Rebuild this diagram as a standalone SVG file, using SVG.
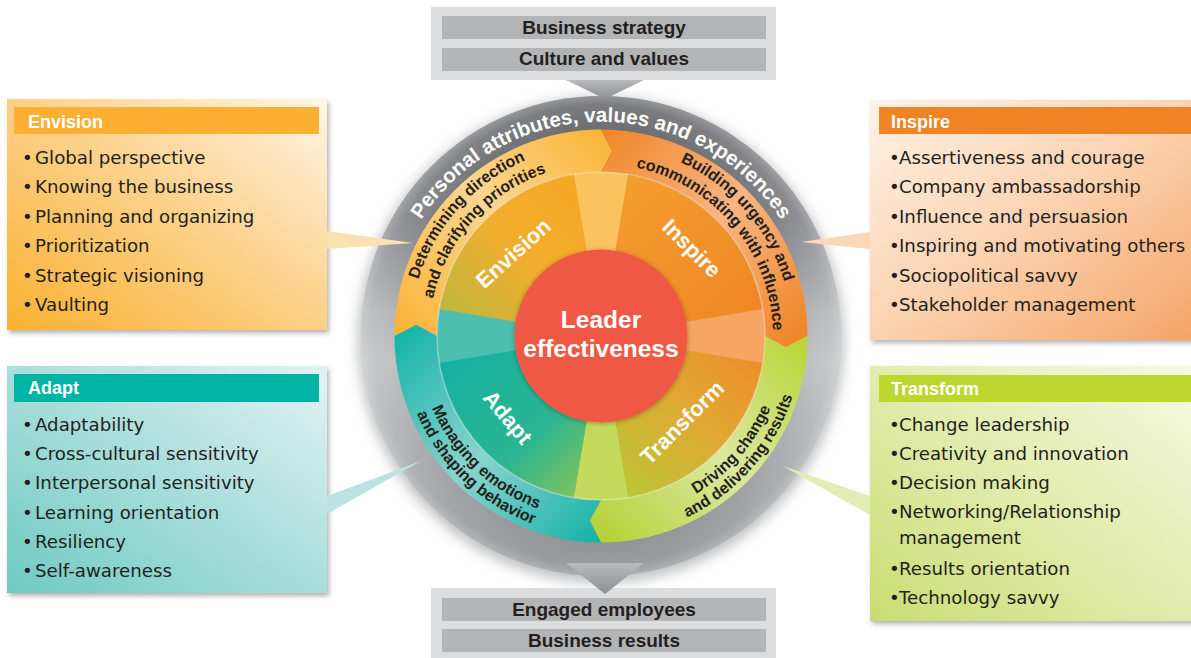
<svg xmlns="http://www.w3.org/2000/svg" width="1191" height="658" viewBox="0 0 1191 658">
<defs>
<style>
.hdr{font-family:"Liberation Sans",Arial,sans-serif;font-weight:700;font-size:18px;fill:#fff}
.li{font-family:"DejaVu Sans",sans-serif;font-size:18.2px;fill:#231F20}
.bar{font-family:"Liberation Sans",Arial,sans-serif;font-weight:700;font-size:19px;fill:#231F20;text-anchor:middle}
.rt{font-family:"Liberation Sans",Arial,sans-serif;font-weight:700;font-size:16px;fill:#231F20}
.gt{font-family:"Liberation Sans",Arial,sans-serif;font-weight:700;font-size:20.5px;fill:#fff}
.il{font-family:"Liberation Sans",Arial,sans-serif;font-weight:700;font-size:22px;fill:#fff;text-anchor:middle}
.ct{font-family:"Liberation Sans",Arial,sans-serif;font-weight:700;font-size:24.5px;fill:#fff;text-anchor:middle}
.outer{fill:#DCDDDE}
.bbar{fill:#B2B4B6}
</style>
<filter id="sh" x="-10%" y="-10%" width="130%" height="130%"><feDropShadow dx="2" dy="3" stdDeviation="2.5" flood-color="#000" flood-opacity="0.3"/></filter>
<filter id="blur" x="-20%" y="-20%" width="140%" height="140%"><feGaussianBlur stdDeviation="7"/></filter>
<filter id="csh" x="-20%" y="-20%" width="140%" height="140%"><feDropShadow dx="0" dy="1" stdDeviation="2.5" flood-color="#000" flood-opacity="0.3"/></filter>
<linearGradient id="gEnvBox" x1="0" y1="1" x2="1" y2="0"><stop offset="0" stop-color="#F9B131"/><stop offset="0.55" stop-color="#FCD38F"/><stop offset="1" stop-color="#FEF6E6"/></linearGradient>
<linearGradient id="gAdaBox" x1="0" y1="1" x2="1" y2="0"><stop offset="0" stop-color="#6FCAC4"/><stop offset="0.55" stop-color="#AEE0DD"/><stop offset="1" stop-color="#E3F3F3"/></linearGradient>
<linearGradient id="gInsBox" x1="0" y1="0" x2="1" y2="1"><stop offset="0" stop-color="#FEF3E6"/><stop offset="0.5" stop-color="#FBD2B0"/><stop offset="1" stop-color="#F5A363"/></linearGradient>
<linearGradient id="gTraBox" x1="0" y1="1" x2="1" y2="0"><stop offset="0" stop-color="#CADD72"/><stop offset="0.5" stop-color="#E2ECAE"/><stop offset="1" stop-color="#F6F9E4"/></linearGradient>
<linearGradient id="gRing" gradientUnits="userSpaceOnUse" x1="0" y1="96" x2="0" y2="576"><stop offset="0" stop-color="#66676A"/><stop offset="0.25" stop-color="#808184"/><stop offset="0.45" stop-color="#B4B5B7"/><stop offset="0.55" stop-color="#C0C1C3"/><stop offset="0.78" stop-color="#A5A6A9"/><stop offset="1" stop-color="#8A8B8E"/></linearGradient>
<radialGradient id="gRingEdge" gradientUnits="userSpaceOnUse" cx="601" cy="336" r="240"><stop offset="0.86" stop-color="#fff" stop-opacity="0"/><stop offset="0.96" stop-color="#fff" stop-opacity="0.12"/><stop offset="1" stop-color="#fff" stop-opacity="0.3"/></radialGradient>
<linearGradient id="gEnvRing" gradientUnits="userSpaceOnUse" x1="395" y1="336" x2="601" y2="130"><stop offset="0" stop-color="#F9B233"/><stop offset="0.55" stop-color="#FDD690"/><stop offset="1" stop-color="#F9B437"/></linearGradient>
<linearGradient id="gInsRing" gradientUnits="userSpaceOnUse" x1="601" y1="130" x2="807" y2="336"><stop offset="0" stop-color="#F08626"/><stop offset="0.5" stop-color="#F7B583"/><stop offset="1" stop-color="#F08424"/></linearGradient>
<linearGradient id="gTraRing" gradientUnits="userSpaceOnUse" x1="807" y1="336" x2="601" y2="542"><stop offset="0" stop-color="#B8D432"/><stop offset="0.5" stop-color="#DCE8A0"/><stop offset="1" stop-color="#B3D135"/></linearGradient>
<linearGradient id="gAdaRing" gradientUnits="userSpaceOnUse" x1="601" y1="542" x2="395" y2="336"><stop offset="0" stop-color="#12B2A6"/><stop offset="0.5" stop-color="#8AD3CE"/><stop offset="1" stop-color="#14B4A8"/></linearGradient>
<linearGradient id="gEnvIn" gradientUnits="userSpaceOnUse" x1="601" y1="172" x2="437" y2="336"><stop offset="0" stop-color="#F6A623"/><stop offset="0.5" stop-color="#F1AE2C"/><stop offset="1" stop-color="#B3B841"/></linearGradient>
<linearGradient id="gInsIn" gradientUnits="userSpaceOnUse" x1="601" y1="172" x2="765" y2="336"><stop offset="0" stop-color="#F4A030"/><stop offset="1" stop-color="#EF8424"/></linearGradient>
<linearGradient id="gTraIn" gradientUnits="userSpaceOnUse" x1="765" y1="336" x2="601" y2="500"><stop offset="0" stop-color="#F0892A"/><stop offset="0.45" stop-color="#E0A832"/><stop offset="1" stop-color="#B5CB38"/></linearGradient>
<linearGradient id="gAdaIn" gradientUnits="userSpaceOnUse" x1="437" y1="336" x2="601" y2="500"><stop offset="0" stop-color="#10B1A3"/><stop offset="0.6" stop-color="#2BB592"/><stop offset="1" stop-color="#9AC64F"/></linearGradient>
<linearGradient id="gTri" x1="0" y1="0" x2="0" y2="1"><stop offset="0" stop-color="#B9BABC"/><stop offset="1" stop-color="#8E8F92"/></linearGradient>
<path id="pG" d="M387.8,317.35 A214,214 0 0 1 814.2,317.35"/>
<path id="pE1" d="M461.3,466.3 A191,191 0 0 1 716.0,183.5"/>
<path id="pE2" d="M475.2,453.3 A172,172 0 0 1 704.5,198.6"/>
<path id="pI1" d="M488.7,181.5 A191,191 0 0 1 738.4,468.7"/>
<path id="pI2" d="M502.3,195.1 A172,172 0 0 1 722.6,457.6"/>
<path id="pT1" d="M492.85,484.9 A184,184 0 0 0 733.4,208.2"/>
<path id="pT2" d="M482.9,498.6 A201,201 0 0 0 745.6,196.4"/>
<path id="pA1" d="M457.0,221.5 A184,184 0 0 0 722.9,473.8"/>
<path id="pA2" d="M444.5,211.5 A200,200 0 0 0 733.5,485.8"/>
</defs>
<rect width="1191" height="658" fill="#fff"/>

<g id="wheel">
<circle cx="601" cy="340" r="242" fill="#B8B9BB" filter="url(#blur)"/>
<circle cx="601" cy="336" r="240" fill="url(#gRing)"/>
<circle cx="601" cy="336" r="240" fill="url(#gRingEdge)"/>
<text class="gt" text-anchor="middle"><textPath href="#pG" startOffset="50%">Personal attributes, values and experiences</textPath></text>
</g>

<g id="envision">
<path d="M394.5,336 A206.5,206.5 0 0 1 601,129.5 L612.3,151.35 L601,172 A164,164 0 0 0 437,336 L416.35,324.7 Z" fill="url(#gEnvRing)"/>
<path d="M601,336 L437,336 A164,164 0 0 1 601,172 Z" fill="url(#gEnvIn)"/>
<text class="rt" text-anchor="middle"><textPath href="#pE1" startOffset="50%">Determining direction</textPath></text>
<text class="rt" text-anchor="middle"><textPath href="#pE2" startOffset="50%">and clarifying priorities</textPath></text>
</g>
<g id="inspire">
<path d="M601,129.5 A206.5,206.5 0 0 1 807.5,336 L785.65,347.3 L765,336 A164,164 0 0 0 601,172 L612.3,151.35 Z" fill="url(#gInsRing)"/>
<path d="M601,336 L601,172 A164,164 0 0 1 765,336 Z" fill="url(#gInsIn)"/>
<text class="rt" text-anchor="middle"><textPath href="#pI1" startOffset="50%">Building urgency and</textPath></text>
<text class="rt" text-anchor="middle"><textPath href="#pI2" startOffset="50%">communicating with influence</textPath></text>
</g>
<g id="transform">
<path d="M807.5,336 A206.5,206.5 0 0 1 601,542.5 L589.7,520.65 L601,500 A164,164 0 0 0 765,336 L785.65,347.3 Z" fill="url(#gTraRing)"/>
<path d="M601,336 L765,336 A164,164 0 0 1 601,500 Z" fill="url(#gTraIn)"/>
<text class="rt" text-anchor="middle"><textPath href="#pT1" startOffset="50%">Driving change</textPath></text>
<text class="rt" text-anchor="middle"><textPath href="#pT2" startOffset="50%">and delivering results</textPath></text>
</g>
<g id="adapt">
<path d="M601,542.5 A206.5,206.5 0 0 1 394.5,336 L416.35,324.7 L437,336 A164,164 0 0 0 601,500 L589.7,520.65 Z" fill="url(#gAdaRing)"/>
<path d="M601,336 L601,500 A164,164 0 0 1 437,336 Z" fill="url(#gAdaIn)"/>
<text class="rt" text-anchor="middle"><textPath href="#pA1" startOffset="50%">Managing emotions</textPath></text>
<text class="rt" text-anchor="middle"><textPath href="#pA2" startOffset="50%">and shaping behavior</textPath></text>
</g>
<g id="wedges">
<path d="M601,336 L573.9,174.25 A164,164 0 0 1 628.1,174.25 Z" fill="#FBC35F"/>
<path d="M601,336 L762.75,308.9 A164,164 0 0 1 762.75,363.1 Z" fill="#F6A563"/>
<path d="M601,336 L628.1,497.75 A164,164 0 0 1 573.9,497.75 Z" fill="#C5DA5C"/>
<path d="M601,336 L439.25,363.1 A164,164 0 0 1 439.25,308.9 Z" fill="#4CBFB1"/>
<circle cx="601" cy="336" r="164" fill="none" stroke="#fff" stroke-opacity="0.35" stroke-width="1.5"/>
</g>
<g id="inner-labels">
<text class="il" transform="translate(513,253) rotate(-42)" y="8">Envision</text>
<text class="il" transform="translate(692,248) rotate(45)" y="8">Inspire</text>
<text class="il" transform="translate(508,417) rotate(50)" y="8">Adapt</text>
<text class="il" transform="translate(682,422) rotate(-45)" y="8">Transform</text>
</g>
<g id="center">
<circle cx="601" cy="336" r="86.5" fill="#EF5845" filter="url(#csh)"/>
<text class="ct" x="601" y="328">Leader</text>
<text class="ct" x="601" y="357">effectiveness</text>
</g>

<g id="envision-box">
<rect x="7" y="99" width="320" height="231" fill="url(#gEnvBox)" filter="url(#sh)"/>
<rect x="14" y="107" width="305" height="27" fill="#FBB034"/>
<text class="hdr" x="28" y="128">Envision</text>
<text class="li" x="22" y="164">•<tspan x="35">Global perspective</tspan></text>
<text class="li" x="22" y="193.4">•<tspan x="35">Knowing the business</tspan></text>
<text class="li" x="22" y="222.8">•<tspan x="35">Planning and organizing</tspan></text>
<text class="li" x="22" y="252.2">•<tspan x="35">Prioritization</tspan></text>
<text class="li" x="22" y="281.6">•<tspan x="35">Strategic visioning</tspan></text>
<text class="li" x="22" y="311">•<tspan x="35">Vaulting</tspan></text>
</g>
<g id="adapt-box">
<rect x="7" y="366" width="320" height="227" fill="url(#gAdaBox)" filter="url(#sh)"/>
<rect x="14" y="374" width="305" height="28" fill="#00B3A4"/>
<text class="hdr" x="28" y="394">Adapt</text>
<text class="li" x="22" y="431">•<tspan x="35">Adaptability</tspan></text>
<text class="li" x="22" y="460.2">•<tspan x="35">Cross-cultural sensitivity</tspan></text>
<text class="li" x="22" y="489.4">•<tspan x="35">Interpersonal sensitivity</tspan></text>
<text class="li" x="22" y="518.6">•<tspan x="35">Learning orientation</tspan></text>
<text class="li" x="22" y="547.8">•<tspan x="35">Resiliency</tspan></text>
<text class="li" x="22" y="577">•<tspan x="35">Self-awareness</tspan></text>
</g>
<g id="inspire-box">
<rect x="870" y="100" width="330" height="240" fill="url(#gInsBox)" filter="url(#sh)"/>
<rect x="879" y="107" width="320" height="27" fill="#F08424"/>
<text class="hdr" x="891" y="128">Inspire</text>
<text class="li" x="889" y="164">•<tspan x="899">Assertiveness and courage</tspan></text>
<text class="li" x="889" y="193.4">•<tspan x="899">Company ambassadorship</tspan></text>
<text class="li" x="889" y="222.8">•<tspan x="899">Influence and persuasion</tspan></text>
<text class="li" x="889" y="252.2">•<tspan x="899">Inspiring and motivating others</tspan></text>
<text class="li" x="889" y="281.6">•<tspan x="899">Sociopolitical savvy</tspan></text>
<text class="li" x="889" y="311">•<tspan x="899">Stakeholder management</tspan></text>
</g>
<g id="transform-box">
<rect x="870" y="366" width="330" height="255" fill="url(#gTraBox)" filter="url(#sh)"/>
<rect x="879" y="375" width="320" height="27" fill="#BED630"/>
<text class="hdr" x="891" y="395">Transform</text>
<text class="li" x="889" y="431">•<tspan x="899">Change leadership</tspan></text>
<text class="li" x="889" y="460">•<tspan x="899">Creativity and innovation</tspan></text>
<text class="li" x="889" y="489.3">•<tspan x="899">Decision making</tspan></text>
<text class="li" x="889" y="518.3">•<tspan x="899">Networking/Relationship</tspan></text>
<text class="li" x="899" y="544.3">management</text>
<text class="li" x="889" y="575">•<tspan x="899">Results orientation</tspan></text>
<text class="li" x="889" y="604">•<tspan x="899">Technology savvy</tspan></text>
</g>

<g id="top-box">
<rect class="outer" x="431" y="7" width="345" height="73"/>
<rect class="bbar" x="442" y="16" width="324" height="23"/>
<rect class="bbar" x="442" y="48" width="324" height="23"/>
<text class="bar" x="604" y="34">Business strategy</text>
<text class="bar" x="604" y="65">Culture and values</text>
</g>
<g id="bottom-box">
<rect class="outer" x="431" y="588" width="345" height="70"/>
<rect class="bbar" x="442" y="598" width="324" height="23"/>
<rect class="bbar" x="442" y="629" width="324" height="23"/>
<text class="bar" x="604" y="616">Engaged employees</text>
<text class="bar" x="604" y="647">Business results</text>
</g>

<g id="connectors">
<polygon points="327,231 413,243 327,249" fill="#FCE1B0"/>
<polygon points="870,232 801,242 870,249" fill="#FBD7BA"/>
<polygon points="327,496 421,461 327,514" fill="#BCE3E1"/>
<polygon points="870,496 783,466 870,515" fill="#E2EDB3"/>
<polygon points="566,80 644,80 605,99" fill="url(#gTri)"/>
<polygon points="566,563 644,563 605,594" fill="url(#gTri)"/>
</g>
</svg>
